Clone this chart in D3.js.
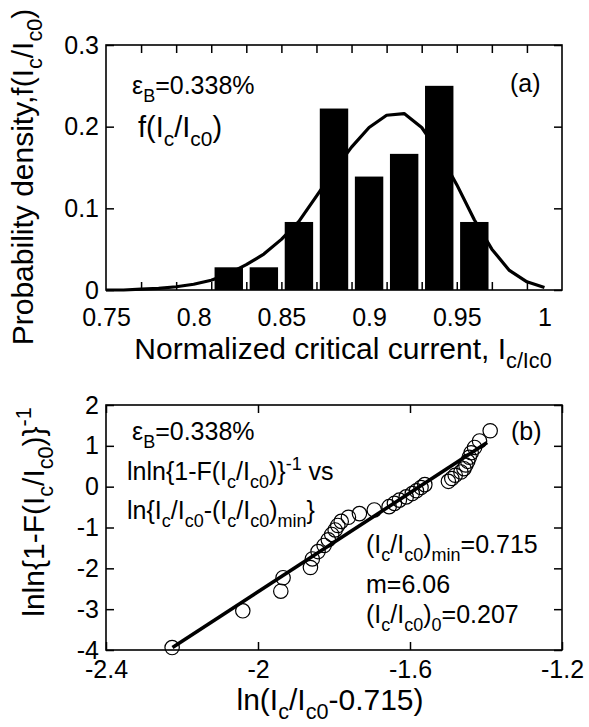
<!DOCTYPE html>
<html><head><meta charset="utf-8">
<script src="https://cdn.jsdelivr.net/npm/d3@7"></script>
<style>
html,body{margin:0;padding:0;background:#fff;}
svg{display:block;}
text{font-family:"Liberation Sans",Arial,Helvetica,sans-serif;fill:#000;}
</style></head>
<body>
<svg id="chart" width="589" height="727"></svg>
<script>
// ---------- Panel (a) data ----------
const binCenters = [0.82, 0.84, 0.86, 0.88, 0.90, 0.92, 0.94, 0.96];
const binDensity = [0.0278, 0.0278, 0.0833, 0.2222, 0.1389, 0.1667, 0.2500, 0.0833];
const curveX = [0.75,0.76,0.77,0.78,0.79,0.80,0.81,0.82,0.83,0.84,0.85,0.86,0.87,0.88,0.89,0.90,0.91,0.92,0.93,0.94,0.95,0.96,0.97,0.98,0.99,1.00];
const curveY = [0.000,0.000,0.001,0.002,0.004,0.007,0.012,0.020,0.031,0.044,0.062,0.084,0.115,0.146,0.175,0.199,0.214,0.216,0.199,0.168,0.129,0.086,0.050,0.024,0.010,0.003];
const topXLabels = [0.75, 0.8, 0.85, 0.9, 0.95, 1];
const topXTicks = [0.77,0.79,0.81,0.83,0.85,0.87,0.89,0.91,0.93,0.95,0.97,0.99];
const topYTicks = [0, 0.1, 0.2, 0.3];

// ---------- Panel (b) data ----------
const probX = [-2.226,-2.040,-1.940,-1.934,-1.862,-1.857,-1.842,-1.826,-1.815,-1.806,-1.797,-1.790,-1.781,-1.762,-1.733,-1.694,-1.655,-1.641,-1.628,-1.610,-1.594,-1.583,-1.571,-1.561,-1.499,-1.490,-1.481,-1.466,-1.458,-1.453,-1.448,-1.444,-1.439,-1.430,-1.417,-1.389];
const probY = [-3.94,-3.04,-2.56,-2.23,-1.98,-1.77,-1.59,-1.44,-1.30,-1.17,-1.06,-0.95,-0.85,-0.75,-0.66,-0.57,-0.49,-0.41,-0.33,-0.25,-0.17,-0.10,-0.02,0.05,0.13,0.20,0.28,0.36,0.44,0.53,0.62,0.72,0.83,0.96,1.12,1.37];
const fitX = [-2.225, -1.397];
const fitY = [-3.94, 1.08];
const botXTicks = [-2.4, -2.0, -1.6, -1.2];
const botYTicks = [-4, -3, -2, -1, 0, 1, 2];

// ---------- layout ----------
const svg = d3.select("#chart");
const L = 106, R = 562;
const TOP = {t: 45, b: 290};
const BOT = {t: 405, b: 650};
const tickFs = 25, annFs = 25, titleFs = 30;

const xA = d3.scaleLinear().domain([0.75, 1.01]).range([L, R]);
const yA = d3.scaleLinear().domain([0, 0.3]).range([TOP.b, TOP.t]);
const xB = d3.scaleLinear().domain([-2.4, -1.2]).range([L, R]);
const yB = d3.scaleLinear().domain([-4, 2]).range([BOT.b, BOT.t]);

function rich(g, x, y, parts, size, anchor, transform) {
  const t = g.append("text").attr("font-size", size).attr("text-anchor", anchor || "start");
  if (transform) t.attr("transform", transform); else t.attr("x", x).attr("y", y);
  let shift = 0;
  parts.forEach(p => {
    const [s, type] = Array.isArray(p) ? p : [p, ""];
    const ts = t.append("tspan").text(s);
    let target = 0, fs = size;
    if (type === "sub") { target = 0.30 * size; fs = size * 0.72; }
    else if (type === "sup") { target = -0.42 * size; fs = size * 0.72; }
    ts.attr("font-size", fs).attr("dy", (target - shift).toFixed(2));
    shift = target;
  });
  return t;
}

function styleAxis(g) {
  g.select(".domain").remove();
  g.selectAll(".tick line").attr("stroke", "#000").attr("stroke-width", 1.5);
  g.selectAll("text").attr("font-size", tickFs).attr("font-family", '"Liberation Sans",Arial,sans-serif').attr("fill", "#000");
}

// ================= Panel (a) =================
const gA = svg.append("g");
const barHalf = 0.0081;
gA.selectAll("rect.bar").data(binCenters).enter().append("rect")
  .attr("class", "bar")
  .attr("x", d => xA(d - barHalf))
  .attr("width", d => xA(d + barHalf) - xA(d - barHalf))
  .attr("y", (d, i) => yA(binDensity[i]))
  .attr("height", (d, i) => yA(0) - yA(binDensity[i]))
  .attr("fill", "#000");
gA.append("path")
  .datum(curveX.map((x, i) => [x, curveY[i]]))
  .attr("d", d3.line().x(d => xA(d[0])).y(d => yA(d[1])))
  .attr("fill", "none").attr("stroke", "#000").attr("stroke-width", 3.2).attr("stroke-linejoin", "round");

gA.append("g").attr("transform", `translate(0,${TOP.b})`)
  .call(d3.axisBottom(xA).tickValues(topXTicks).tickFormat("").tickSizeInner(-8).tickSizeOuter(0)).call(styleAxis);
gA.append("g").attr("transform", `translate(0,${TOP.t})`)
  .call(d3.axisTop(xA).tickValues(topXTicks).tickFormat("").tickSizeInner(-8).tickSizeOuter(0)).call(styleAxis);
gA.append("g").attr("transform", `translate(0,${TOP.b})`)
  .call(d3.axisBottom(xA).tickValues(topXLabels).tickFormat(d3.format("~g")).tickSize(0).tickPadding(18)).call(styleAxis);
gA.append("g").attr("transform", `translate(${L},0)`)
  .call(d3.axisLeft(yA).tickValues(topYTicks).tickFormat(d3.format("~g")).tickSizeInner(-8).tickSizeOuter(0).tickPadding(7)).call(styleAxis);
gA.append("g").attr("transform", `translate(${R},0)`)
  .call(d3.axisRight(yA).tickValues(topYTicks).tickFormat("").tickSizeInner(-8).tickSizeOuter(0)).call(styleAxis);
gA.append("rect").attr("x", L).attr("y", TOP.t).attr("width", R - L).attr("height", TOP.b - TOP.t)
  .attr("fill", "none").attr("stroke", "#000").attr("stroke-width", 1.6);

rich(gA, 132, 94, ["ε", ["B", "sub"], ["=0.338%", ""]], annFs);
rich(gA, 138, 137, ["f(I", ["c", "sub"], ["/I", ""], ["c0", "sub"], [")", ""]], 29);
rich(gA, 510, 92, ["(a)"], annFs);
rich(gA, 343, 359, ["Normalized critical current, I", ["c/Ic0", "sub"]], titleFs, "middle");
rich(gA, 0, 0, ["Probability density,f(I", ["c", "sub"], ["/I", ""], ["c0", "sub"], [")", ""]], titleFs, "middle", "translate(33,177) rotate(-90)");

// ================= Panel (b) =================
const gB = svg.append("g");
gB.selectAll("circle.pt").data(probX).enter().append("circle")
  .attr("class", "pt")
  .attr("cx", d => xB(d))
  .attr("cy", (d, i) => yB(probY[i]))
  .attr("r", 7.2)
  .attr("fill", "none").attr("stroke", "#000").attr("stroke-width", 1.2);
gB.append("path")
  .datum(fitX.map((x, i) => [x, fitY[i]]))
  .attr("d", d3.line().x(d => xB(d[0])).y(d => yB(d[1])))
  .attr("fill", "none").attr("stroke", "#000").attr("stroke-width", 3.6);

gB.append("g").attr("transform", `translate(0,${BOT.b})`)
  .call(d3.axisBottom(xB).tickValues(botXTicks).tickFormat(d3.format("~g")).tickSizeInner(-8).tickSizeOuter(0).tickPadding(10)).call(styleAxis);
gB.append("g").attr("transform", `translate(0,${BOT.t})`)
  .call(d3.axisTop(xB).tickValues(botXTicks).tickFormat("").tickSizeInner(-8).tickSizeOuter(0)).call(styleAxis);
gB.append("g").attr("transform", `translate(${L},0)`)
  .call(d3.axisLeft(yB).tickValues(botYTicks).tickFormat(d3.format("~g")).tickSizeInner(-8).tickSizeOuter(0).tickPadding(7)).call(styleAxis);
gB.append("g").attr("transform", `translate(${R},0)`)
  .call(d3.axisRight(yB).tickValues(botYTicks).tickFormat("").tickSizeInner(-8).tickSizeOuter(0)).call(styleAxis);
gB.selectAll("text").filter(function(){ return this.textContent.indexOf("−") >= 0; })
  .text(function(){ return this.textContent.replace("−", "-"); });
gB.append("rect").attr("x", L).attr("y", BOT.t).attr("width", R - L).attr("height", BOT.b - BOT.t)
  .attr("fill", "none").attr("stroke", "#000").attr("stroke-width", 1.6);

rich(gB, 132, 440, ["ε", ["B", "sub"], ["=0.338%", ""]], annFs);
rich(gB, 127, 480, ["lnln{1-F(I", ["c", "sub"], ["/I", ""], ["c0", "sub"], [")}", ""], ["-1", "sup"], [" vs", ""]], annFs);
rich(gB, 127, 519, ["ln{I", ["c", "sub"], ["/I", ""], ["c0", "sub"], ["-(I", ""], ["c", "sub"], ["/I", ""], ["c0", "sub"], [")", ""], ["min", "sub"], ["}", ""]], annFs);
rich(gB, 366, 553, ["(I", ["c", "sub"], ["/I", ""], ["c0", "sub"], [")", ""], ["min", "sub"], ["=0.715", ""]], annFs);
rich(gB, 366, 593, ["m=6.06"], annFs);
rich(gB, 366, 623, ["(I", ["c", "sub"], ["/I", ""], ["c0", "sub"], [")", ""], ["0", "sub"], ["=0.207", ""]], annFs);
rich(gB, 511, 440, ["(b)"], annFs);

rich(gB, 330, 710, ["ln(I", ["c", "sub"], ["/I", ""], ["c0", "sub"], ["-0.715)", ""]], titleFs, "middle");
rich(gB, 0, 0, ["lnln{1-F(I", ["c", "sub"], ["/I", ""], ["c0", "sub"], [")}", ""], ["-1", "sup"]], titleFs, "middle", "translate(44,512) rotate(-90)");
</script>
</body></html>
